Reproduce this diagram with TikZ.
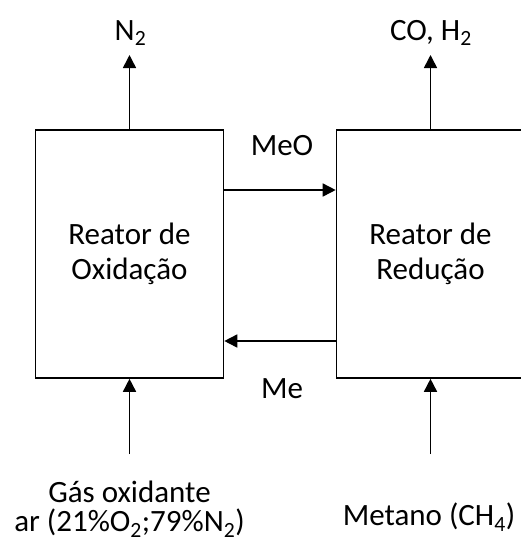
\documentclass[tikz,border=0pt]{standalone}
\usepackage{fontspec}
\setmainfont{Carlito}
\usetikzlibrary{arrows.meta,calc}
\begin{document}
\begin{tikzpicture}[x=1pt,y=1pt,
  every node/.style={font=\fontsize{31}{35}\selectfont, inner sep=0pt},
  reactor/.style={draw, line width=1.6pt, minimum width=188pt, minimum height=248pt, align=center},
  arr/.style={line width=1.6pt, -{Triangle[length=13pt,width=13pt]}},
  lbl/.style={align=center}]
\useasboundingbox (0,0) rectangle (521,-542);
\node[reactor] (lbox) at (129.5,-254) {Reator de\\Oxidação};
\begin{scope}
\clip (0,0) rectangle (521,-542);
\node[reactor] (rbox) at (430.5,-254) {Reator de\\Redução};
\end{scope}
% top outputs
\node[lbl] (n2) at (130.5,-33) {N\textsubscript{2}};
\node[lbl] (coh) at (431,-33) {CO, H\textsubscript{2}};
\coordinate (n2tip) at (129.5,-55);
\coordinate (cohtip) at (430.5,-55);
\draw[arr] (lbox.north) -- (n2tip);
\draw[arr] (rbox.north) -- (cohtip);
% exchange arrows
\draw[arr] (lbox.east |- 0,-190) -- (rbox.west |- 0,-190);
\draw[arr] (rbox.west |- 0,-341) -- (lbox.east |- 0,-341);
\node[lbl] (meo) at (282,-146) {MeO};
\node[lbl] (me) at (282,-389) {Me};
% inputs
\coordinate (gasin) at (129.5,-454);
\coordinate (metin) at (430.5,-454);
\draw[arr] (gasin) -- (lbox.south);
\draw[arr] (metin) -- (rbox.south);
\node[lbl, font=\fontsize{31}{29}\selectfont] (gas) at (129.5,-509) {Gás oxidante\\ar (21\%O\textsubscript{2};79\%N\textsubscript{2})};
\node[lbl] (met) at (429,-517) {Metano (CH\textsubscript{4})};
\end{tikzpicture}
\end{document}
